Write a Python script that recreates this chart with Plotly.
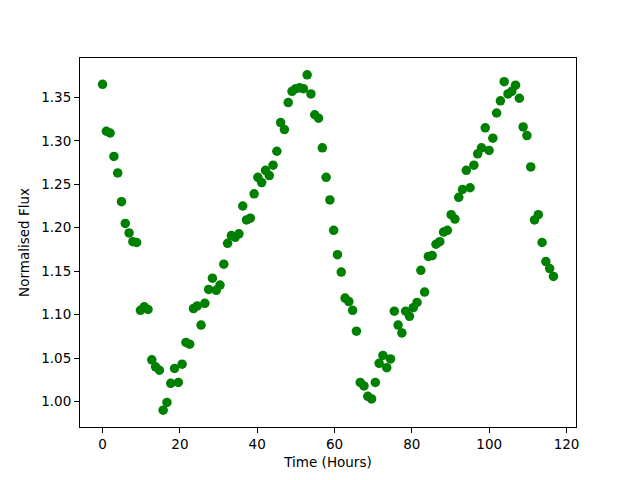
import plotly.graph_objects as go

time_hours = [0.0, 0.98, 1.96, 2.94, 3.92, 4.9, 5.88, 6.86, 7.84, 8.82,
              9.8, 10.78, 11.76, 12.74, 13.72, 14.7, 15.68, 16.66, 17.64, 18.62,
              19.6, 20.58, 21.56, 22.54, 23.52, 24.5, 25.48, 26.46, 27.44, 28.42,
              29.4, 30.38, 31.36, 32.34, 33.32, 34.3, 35.28, 36.26, 37.24, 38.22,
              39.2, 40.18, 41.16, 42.14, 43.12, 44.1, 45.08, 46.06, 47.04, 48.02,
              49.0, 49.98, 50.96, 51.94, 52.92, 53.9, 54.88, 55.86, 56.84, 57.82,
              58.8, 59.78, 60.76, 61.74, 62.72, 63.7, 64.68, 65.66, 66.64, 67.62,
              68.6, 69.58, 70.56, 71.54, 72.52, 73.5, 74.48, 75.46, 76.44, 77.42,
              78.4, 79.38, 80.36, 81.34, 82.32, 83.3, 84.28, 85.26, 86.24, 87.22,
              88.2, 89.18, 90.16, 91.14, 92.12, 93.1, 94.08, 95.06, 96.04, 97.02,
              98.0, 98.98, 99.96, 100.94, 101.92, 102.9, 103.88, 104.86, 105.84, 106.82,
              107.8, 108.78, 109.76, 110.74, 111.72, 112.7, 113.68, 114.66, 115.64, 116.62]

flux = [1.365, 1.311, 1.309, 1.282, 1.263, 1.230, 1.205, 1.194, 1.184, 1.183,
        1.105, 1.109, 1.106, 1.048, 1.040, 1.036, 0.990, 0.999, 1.021, 1.038,
        1.022, 1.043, 1.068, 1.066, 1.107, 1.110, 1.088, 1.113, 1.129, 1.142,
        1.128, 1.134, 1.158, 1.182, 1.191, 1.189, 1.193, 1.225, 1.209, 1.211,
        1.239, 1.258, 1.252, 1.266, 1.260, 1.272, 1.288, 1.321, 1.313, 1.344,
        1.357, 1.360, 1.361, 1.360, 1.376, 1.354, 1.330, 1.326, 1.292, 1.258,
        1.232, 1.197, 1.169, 1.149, 1.119, 1.115, 1.105, 1.081, 1.022, 1.018,
        1.006, 1.003, 1.022, 1.044, 1.053, 1.039, 1.049, 1.104, 1.088, 1.079,
        1.104, 1.098, 1.108, 1.114, 1.151, 1.126, 1.167, 1.168, 1.181, 1.184,
        1.195, 1.197, 1.215, 1.210, 1.235, 1.244, 1.266, 1.246, 1.272, 1.285,
        1.292, 1.315, 1.289, 1.303, 1.332, 1.346, 1.368, 1.354, 1.357, 1.364,
        1.349, 1.316, 1.306, 1.270, 1.209, 1.215, 1.183, 1.161, 1.153, 1.144]

x_ticks = [0, 20, 40, 60, 80, 100, 120]
y_ticks = [1.00, 1.05, 1.10, 1.15, 1.20, 1.25, 1.30, 1.35]

xmin, xmax = min(time_hours), max(time_hours)
ymin, ymax = min(flux), max(flux)
xpad = 0.05 * (xmax - xmin)
ypad = 0.05 * (ymax - ymin)

fig = go.Figure(go.Scatter(
    x=time_hours, y=flux, mode="markers",
    marker=dict(color="#008000", size=9.5, line=dict(width=0)),
    showlegend=False,
))

axis_common = dict(
    showgrid=False, zeroline=False, showline=True, linecolor="black",
    linewidth=1, mirror=True, ticks="outside", ticklen=5, tickwidth=1,
    tickcolor="black", tickfont=dict(family="DejaVu Sans", size=13.5, color="black"),
)

fig.update_xaxes(
    range=[xmin - xpad, xmax + xpad], tickvals=x_ticks,
    ticktext=[str(v) for v in x_ticks],
    title=dict(text="Time (Hours)", font=dict(family="DejaVu Sans", size=13.5, color="black"), standoff=6),
    **axis_common,
)
fig.update_yaxes(
    range=[ymin - ypad, ymax + ypad], tickvals=y_ticks,
    ticktext=[f"{v:.2f}" for v in y_ticks],
    title=dict(text="Normalised Flux", font=dict(family="DejaVu Sans", size=13.5, color="black"), standoff=8),
    **axis_common,
)

fig.update_layout(
    width=632, height=472,
    margin=dict(l=72, r=64, t=50, b=53),
    paper_bgcolor="white", plot_bgcolor="white",
    font=dict(family="DejaVu Sans", color="black"),
)

fig.write_html("out.html")
